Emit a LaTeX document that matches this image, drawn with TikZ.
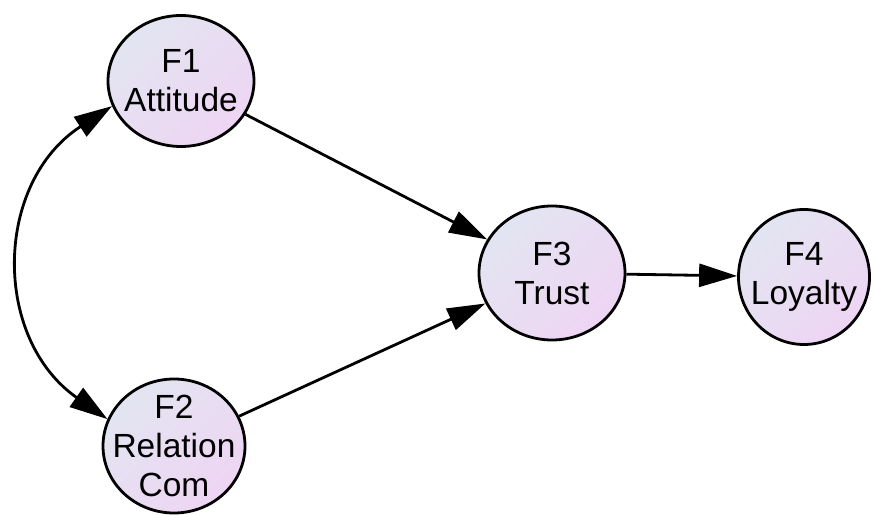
\documentclass[tikz,border=0pt]{standalone}
\usepackage{fontspec}
\setmainfont{Liberation Sans}
\usetikzlibrary{arrows.meta,shapes.geometric}
\definecolor{fillA}{RGB}{226,229,241}
\definecolor{fillB}{RGB}{238,213,243}
\tikzset{
  factor/.style={ellipse, draw=black, line width=2.8pt, inner sep=0pt,
    top color=fillA, bottom color=fillB, shading angle=45},
  flabel/.style={align=center, font=\fontsize{33.5}{39}\selectfont, inner sep=0pt},
  path/.style={line width=2.8pt, -{Triangle[length=38pt,width=23pt]}},
  cov/.style={line width=2.8pt, {Triangle[length=38pt,width=23pt]}-{Triangle[length=38pt,width=23pt]}}
}
\begin{document}
\begin{tikzpicture}[x=1pt,y=1pt]
\useasboundingbox (0,0) rectangle (875,514);
\node[factor, minimum width=146pt, minimum height=131pt] (F1) at (181,433) {};
\node[factor, minimum width=142pt, minimum height=134pt] (F2) at (174,68) {};
\node[factor, minimum width=146pt, minimum height=134pt] (F3) at (552,241) {};
\node[factor, minimum width=131pt, minimum height=135pt] (F4) at (804,237) {};
\node[flabel] (L1) at (F1.center) {F1\\Attitude};
\node[flabel] (L2) at (F2.center) {F2\\Relation\\Com};
\node[flabel] (L3) at (F3.center) {F3\\Trust};
\node[flabel] (L4) at (F4.center) {F4\\Loyalty};
\draw[path] (F1) -- (F3);
\draw[path] (F2) -- (F3);
\draw[path] (F3) -- (F4);
\draw[cov] (F1.200) to[out=213,in=145,looseness=1.15] (F2.158);
\end{tikzpicture}
\end{document}
